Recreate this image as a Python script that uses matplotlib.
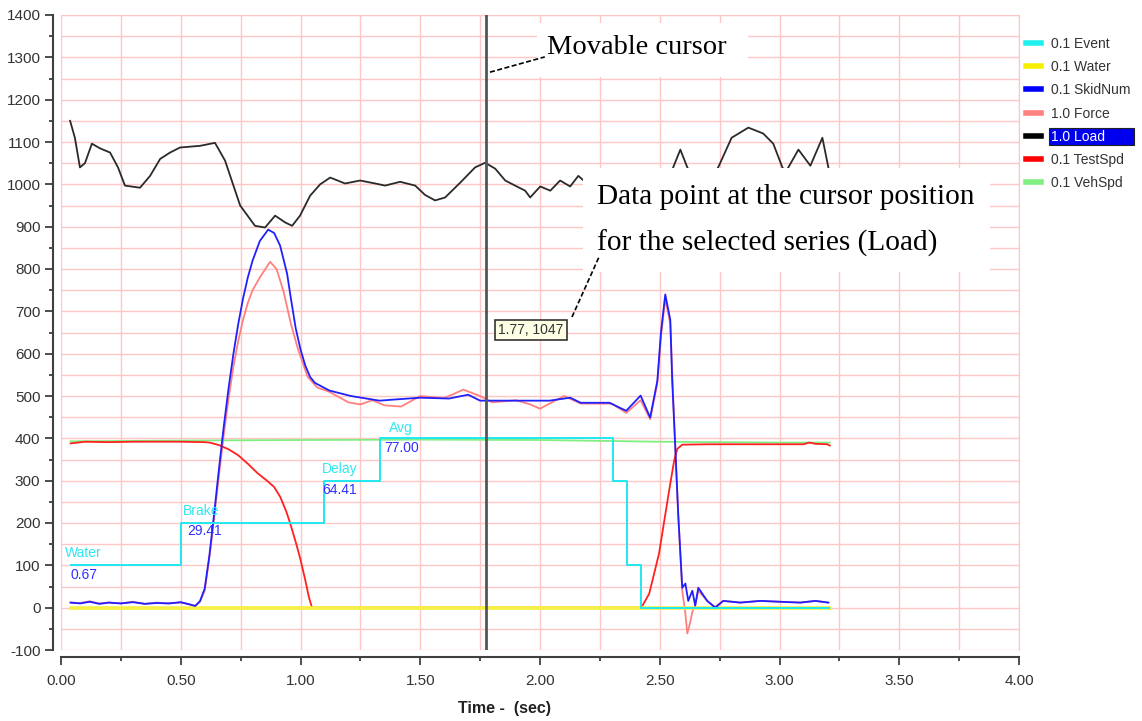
import numpy as np
import matplotlib
matplotlib.use("Agg")
import matplotlib.pyplot as plt
from matplotlib.ticker import MultipleLocator, FormatStrFormatter
from matplotlib.lines import Line2D
from matplotlib.patches import Rectangle

plt.rcParams['font.family'] = ['Liberation Sans', 'DejaVu Sans']
plt.rcParams['axes.unicode_minus'] = False

# ---------------- data ----------------
event_t = [0.04, 0.50, 1.10, 1.33, 2.306, 2.364, 2.423, 3.205]
event_v = [100, 200, 300, 400, 300, 100, 0, 0]

water_t = [0.04, 3.205]
water_v = [0, 0]

skid_t = [0.04, 0.08, 0.12, 0.16, 0.20, 0.25, 0.30, 0.35, 0.40, 0.45, 0.50, 0.535, 0.56, 0.58,
          0.60, 0.62, 0.64, 0.66, 0.68, 0.70, 0.72, 0.74, 0.76, 0.78, 0.80, 0.83, 0.865, 0.89,
          0.915, 0.944, 0.96, 0.98, 1.00, 1.02, 1.04, 1.06, 1.12, 1.21, 1.33, 1.40, 1.50, 1.62,
          1.70, 1.75, 1.83, 1.96, 2.04, 2.126, 2.17, 2.29, 2.36, 2.42, 2.46, 2.49, 2.505, 2.523,
          2.544, 2.552, 2.565, 2.577, 2.594, 2.607, 2.619, 2.636, 2.648, 2.661, 2.698, 2.732,
          2.765, 2.836, 2.92, 3.0, 3.087, 3.15, 3.204]
skid_v = [12, 10, 14, 9, 12, 10, 13, 9, 11, 10, 13, 8, 4, 15,
          45, 125, 225, 330, 430, 520, 600, 670, 730, 780, 820, 866, 893, 885,
          855, 789, 730, 660, 610, 572, 545, 531, 513, 500, 489, 492, 496, 494,
          503, 489, 489, 489, 489, 496, 484, 484, 465, 501, 449, 536, 650, 740,
          680, 536, 378, 222, 47, 57, 16, 40, 5, 47, 16, 0,
          16, 12, 16, 14, 12, 16, 12]

force_t = [0.04, 0.08, 0.12, 0.16, 0.20, 0.25, 0.30, 0.35, 0.40, 0.45, 0.50, 0.535, 0.56, 0.58,
           0.60, 0.62, 0.64, 0.66, 0.68, 0.70, 0.72, 0.74, 0.76, 0.78, 0.80, 0.83, 0.873, 0.90,
           0.93, 0.96, 0.99, 1.03, 1.07, 1.12, 1.20, 1.25, 1.30, 1.35, 1.42, 1.50, 1.60, 1.68,
           1.75, 1.80, 1.90, 1.96, 2.00, 2.05, 2.10, 2.17, 2.30, 2.36, 2.42, 2.46, 2.49, 2.505,
           2.523, 2.544, 2.565, 2.577, 2.594, 2.607, 2.615, 2.625, 2.636, 2.648, 2.661, 2.698,
           2.73, 2.765, 2.836, 2.92, 3.0, 3.087, 3.15, 3.204]
force_v = [12, 11, 15, 10, 12, 10, 14, 9, 12, 10, 12, 8, 4, 14,
           40, 120, 215, 315, 410, 495, 570, 630, 680, 720, 750, 780, 817, 800,
           745, 670, 610, 545, 520, 510, 485, 480, 490, 478, 475, 500, 495, 515,
           500, 485, 490, 480, 470, 485, 500, 482, 482, 460, 490, 445, 530, 640,
           730, 670, 370, 220, 40, -14, -61, -40, -10, 5, 40, 16,
           2, 16, 12, 16, 14, 12, 16, 12]

load_t = [0.038, 0.058, 0.079, 0.100, 0.129, 0.163, 0.205, 0.238, 0.267, 0.330, 0.372, 0.414,
          0.455, 0.497, 0.581, 0.643, 0.685, 0.748, 0.810, 0.852, 0.894, 0.936, 0.965, 0.998,
          1.040, 1.082, 1.124, 1.186, 1.249, 1.312, 1.353, 1.416, 1.479, 1.520, 1.562, 1.604,
          1.667, 1.729, 1.771, 1.813, 1.855, 1.896, 1.938, 1.959, 2.001, 2.043, 2.084, 2.126,
          2.160, 2.20, 2.30, 2.40, 2.50, 2.545, 2.556, 2.586, 2.615, 2.66, 2.70, 2.744, 2.80,
          2.870, 2.932, 2.974, 3.012, 3.025, 3.037, 3.079, 3.129, 3.179, 3.204, 3.21]
load_v = [1150, 1110, 1040, 1050, 1096, 1085, 1075, 1040, 997, 992, 1020, 1060,
          1075, 1087, 1091, 1098, 1056, 950, 902, 898, 926, 910, 902, 926,
          973, 1000, 1016, 1002, 1009, 1002, 997, 1006, 997, 975, 962, 969,
          1004, 1040, 1051, 1037, 1009, 997, 985, 969, 995, 985, 1009, 995,
          1020, 1000, 990, 1000, 995, 1010, 1040, 1082, 1040, 1000, 1005, 1040, 1110,
          1134, 1120, 1096, 1040, 1030, 1040, 1082, 1044, 1110, 1040, 1020]

testspd_t = [0.04, 0.10, 0.20, 0.30, 0.40, 0.50, 0.60, 0.62, 0.66, 0.70, 0.74, 0.78, 0.82,
             0.86, 0.89, 0.915, 0.94, 0.956, 0.98, 0.998, 1.02, 1.035, 1.048, 1.50, 2.00,
             2.423, 2.456, 2.497, 2.539, 2.56, 2.573, 2.594, 2.70, 2.90, 3.10, 3.125, 3.15,
             3.20, 3.21]
testspd_v = [388, 392, 391, 392, 392, 392, 391, 390, 384, 374, 360, 340, 318,
             300, 285, 262, 228, 201, 155, 118, 65, 25, 0, 0, 0,
             0, 33, 128, 276, 347, 375, 385, 386, 386, 386, 390, 387,
             386, 383]

vehspd_t = [0.04, 0.60, 1.00, 1.50, 2.00, 2.50, 3.00, 3.21]
vehspd_v = [393, 395, 396, 397, 396, 392, 390, 390]

cursor_t = 1.775
cursor_label = "1.77, 1047"

step_names = ["Water", "Brake", "Delay", "Avg"]
step_values = ["0.67", "29.41", "64.41", "77.00"]

legend_labels = ["0.1 Event", "0.1 Water", "0.1 SkidNum", "1.0 Force", "1.0 Load", "0.1 TestSpd", "0.1 VehSpd"]

# ---------------- figure ----------------
W, H = 1142, 721
fig = plt.figure(figsize=(W / 100, H / 100), dpi=100)
ax = fig.add_axes([61 / W, 1 - 650 / H, 958 / W, 635 / H])
ax.set_xlim(0, 4.0)
ax.set_ylim(-100, 1400)

grid_c = '#ffc6c6'
ax.xaxis.set_major_locator(MultipleLocator(0.5))
ax.xaxis.set_minor_locator(MultipleLocator(0.25))
ax.yaxis.set_major_locator(MultipleLocator(100))
ax.yaxis.set_minor_locator(MultipleLocator(50))
ax.xaxis.set_major_formatter(FormatStrFormatter('%.2f'))
ax.yaxis.set_major_formatter(FormatStrFormatter('%d'))
ax.grid(True, which='both', color=grid_c, lw=1.0)
ax.set_axisbelow(True)

for s in ['top', 'right']:
    ax.spines[s].set_color(grid_c)
ax.spines['left'].set_position(('outward', 5.8))
ax.spines['bottom'].set_position(('outward', 5.0))
for s in ['left', 'bottom']:
    ax.spines[s].set_color('#404040')
    ax.spines[s].set_linewidth(1.5)
ax.tick_params(which='major', length=6, width=1.3, color='#404040', labelsize=11,
               labelcolor='#333333')
ax.tick_params(which='minor', length=3, width=1.3, color='#404040')
ax.tick_params(axis='y', which='major', pad=3)
ax.tick_params(axis='x', which='major', pad=6)

lw = 1.3
ax.plot(vehspd_t, vehspd_v, color='#80ee80', lw=lw, zorder=3)
ax.plot(load_t, load_v, color='#2a2a2a', lw=lw, zorder=3)
ax.plot(force_t, force_v, color='#ff8080', lw=lw, zorder=4)
ax.plot(testspd_t, testspd_v, color='#ff2020', lw=lw, zorder=4.2)
ax.plot(water_t, water_v, color='#f6f040', lw=2.6, zorder=4.5)
ax.plot(skid_t, skid_v, color='#2020ff', lw=lw, zorder=5)
ax.plot(event_t, event_v, color='#20e8f0', lw=1.4, drawstyle='steps-post', zorder=6)

# step labels
name_pos = [(0.017, 128), (0.51, 229), (1.09, 328), (1.37, 425)]
val_pos = [(0.038, 76), (0.526, 180), (1.09, 279), (1.35, 378)]
for n, (x, y) in zip(step_names, name_pos):
    ax.text(x, y, n, color='#30e8f0', fontsize=10, va='center', ha='left', zorder=7)
for v, (x, y) in zip(step_values, val_pos):
    ax.text(x, y, v, color='#3030ff', fontsize=10, va='center', ha='left', zorder=7)

# cursor
ax.axvline(cursor_t, color='#555555', lw=2.0, zorder=8)

# white boxes for annotations
ax.add_patch(Rectangle((0.545, 0.595), 0.425, 0.164, transform=ax.transAxes,
                       facecolor='white', edgecolor='none', zorder=9))
ax.add_patch(Rectangle((0.497, 0.903), 0.22, 0.085, transform=ax.transAxes,
                       facecolor='white', edgecolor='none', zorder=9))

serif = ['Liberation Serif', 'DejaVu Serif']
ax.text(0.5073, 0.9496, "Movable cursor", transform=ax.transAxes, family=serif,
        fontsize=20.5, va='center', ha='left', color='black', zorder=10)
ax.plot([0.4478, 0.505], [0.910, 0.934], transform=ax.transAxes, color='black',
        lw=1.2, ls=(0, (3, 1.5)), zorder=10)
ax.text(0.5595, 0.7134, "Data point at the cursor position", transform=ax.transAxes,
        family=serif, fontsize=21.2, va='center', ha='left', color='black', zorder=10)
ax.text(0.5595, 0.641, "for the selected series (Load)", transform=ax.transAxes,
        family=serif, fontsize=21.2, va='center', ha='left', color='black', zorder=10)
ax.plot([0.5334, 0.5616], [0.5244, 0.6190], transform=ax.transAxes, color='black',
        lw=1.2, ls=(0, (3, 1.5)), zorder=10)
ax.text(0.4906, 0.5039, cursor_label, transform=ax.transAxes, fontsize=10,
        va='center', ha='center', color='#333333', zorder=10,
        bbox=dict(boxstyle='square,pad=0.22', facecolor='#ffffe6', edgecolor='#333333', lw=1.2))

# x label
fig.text(505 / W, 1 - 708 / H, "Time -  (sec)", fontsize=11.5, fontweight='bold',
         ha='center', va='center', color='#222222')

# legend
colors = ['#20f0f0', '#f4f000', '#0000ff', '#ff8080', '#000000', '#ff0000', '#80ee80']
handles = [Line2D([], [], color=c, lw=4) for c in colors]
labels = list(legend_labels)
labels[4] = labels[4] + "       "
leg = fig.legend(handles, labels, loc='upper left', bbox_to_anchor=(1026 / W, 1 - 37 / H),
                 frameon=False, fontsize=10, handlelength=1.1, handletextpad=0.7,
                 labelspacing=0.66, borderaxespad=0, borderpad=0)
for t in leg.get_texts():
    t.set_color('#333333')
lt = leg.get_texts()[4]
lt.set_color('white')
lt.set_bbox(dict(boxstyle='square,pad=0.12', facecolor='#0000ee', edgecolor='#222222', lw=0.8))

fig.savefig('out.png', dpi=100)
